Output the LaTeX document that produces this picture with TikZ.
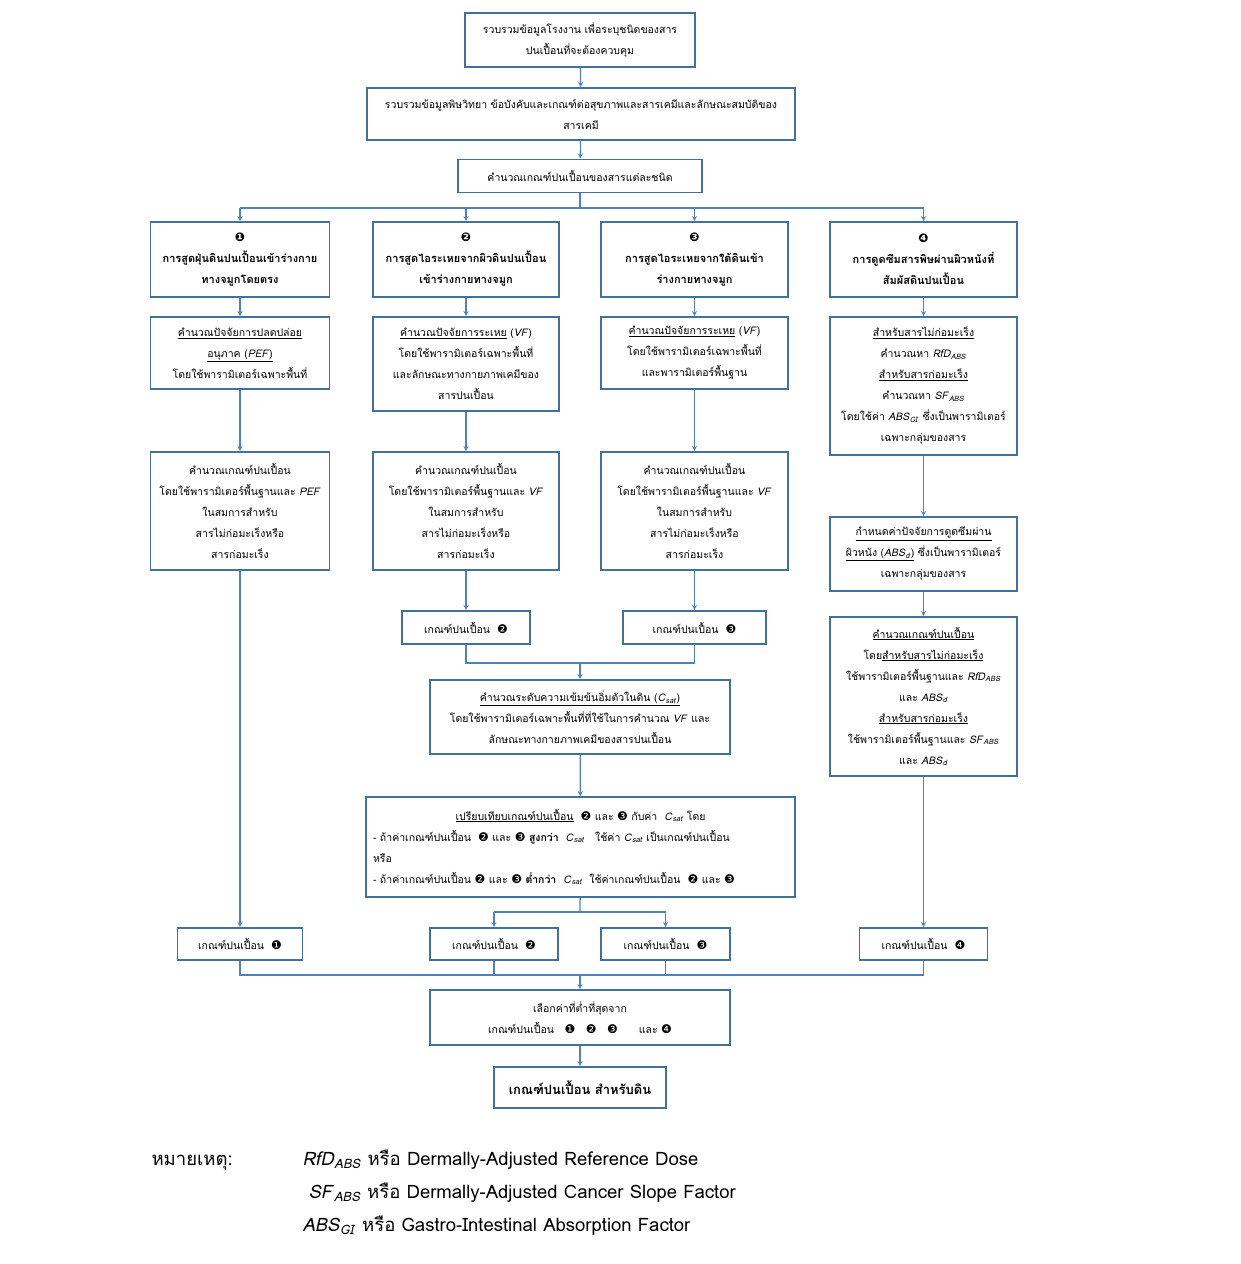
\documentclass[tikz,border=0pt]{standalone}
\usepackage{fontspec}
\setmainfont[Script=Thai]{Loma}
\newfontfamily\dingfont{DejaVu Sans}
\usepackage{xcolor}
\usepackage{tikz}
\usetikzlibrary{shapes,arrows,positioning,calc}

\definecolor{boxblue}{RGB}{65,113,156}
\definecolor{lineblue}{RGB}{79,129,189}
\newcommand{\nb}[1]{{\dingfont\fontsize{12}{12}\selectfont #1}}
\newcommand{\withsub}[2]{\textit{#1}\textsubscript{\textit{#2}}}

\begin{document}
\begin{tikzpicture}[
    x=1pt, y=-1pt,
    box/.style={rectangle, draw=boxblue, line width=1.6pt, fill=white, align=center, inner sep=3pt,
                font=\fontsize{10.5}{21}\selectfont},
    head/.style={box, font=\fontsize{11}{21}\selectfont\bfseries},
    link/.style={->, >=stealth, draw=lineblue, line width=1.3pt},
    wire/.style={draw=lineblue, line width=1.3pt},
    note/.style={anchor=base west, font=\fontsize{18.5}{22}\selectfont}
]

\useasboundingbox (0,0) rectangle (1241,1264);

% Top boxes
\node[box, minimum width=230, minimum height=54] (collect) at (580,40) {รวบรวมข้อมูลโรงงาน เพื่อระบุชนิดของสาร\\ปนเปื้อนที่จะต้องควบคุม};
\node[box, minimum width=428, minimum height=52] (toxic) at (581,114) {รวบรวมข้อมูลพิษวิทยา ข้อบังคับและเกณฑ์ต่อสุขภาพและสารเคมีและลักษณะสมบัติของ\\สารเคมี};
\node[box, minimum width=244, minimum height=33] (calc) at (580,176) {คำนวณเกณฑ์ปนเปื้อนของสารแต่ละชนิด};

% Pathways
\node[head, minimum width=179, minimum height=75] (path1) at (240,259.5) {\nb{❶}\\การสูดฝุ่นดินปนเปื้อนเข้าร่างกาย\\ทางจมูกโดยตรง};
\node[head, minimum width=186, minimum height=75] (path2) at (466,259.5) {\nb{❷}\\การสูดไอระเหยจากผิวดินปนเปื้อน\\เข้าร่างกายทางจมูก};
\node[head, minimum width=187, minimum height=75] (path3) at (694.5,259.5) {\nb{❸}\\การสูดไอระเหยจากใต้ดินเข้า\\ร่างกายทางจมูก};
\node[head, minimum width=187, minimum height=75] (path4) at (923.5,259.5) {\nb{❹}\\การดูดซึมสารพิษผ่านผิวหนังที่\\สัมผัสดินปนเปื้อน};

% Factors
\node[box, minimum width=179, minimum height=72] (pef) at (240,353) {\underline{คำนวณปัจจัยการปลดปล่อย}\\\underline{อนุภาค (\textit{PEF})}\\โดยใช้พารามิเตอร์เฉพาะพื้นที่};
\node[box, minimum width=186, minimum height=94] (vfsurf) at (466,364) {\underline{คำนวณปัจจัยการระเหย} (\textit{VF})\\โดยใช้พารามิเตอร์เฉพาะพื้นที่\\และลักษณะทางกายภาพเคมีของ\\สารปนเปื้อน};
\node[box, minimum width=187, minimum height=72] (vfsub) at (694.5,353) {\underline{คำนวณปัจจัยการระเหย} (\textit{VF})\\โดยใช้พารามิเตอร์เฉพาะพื้นที่\\และพารามิเตอร์พื้นฐาน};
\node[box, minimum width=187, minimum height=138] (dermal) at (923.5,386) {\underline{สำหรับสารไม่ก่อมะเร็ง}\\คำนวณหา \withsub{RfD}{ABS}\\\underline{สำหรับสารก่อมะเร็ง}\\คำนวณหา \withsub{SF}{ABS}\\โดยใช้ค่า \withsub{ABS}{GI} ซึ่งเป็นพารามิเตอร์\\เฉพาะกลุ่มของสาร};

% Criteria calculation
\node[box, minimum width=179, minimum height=118] (crit1) at (240,511) {คำนวณเกณฑ์ปนเปื้อน\\โดยใช้พารามิเตอร์พื้นฐานและ \textit{PEF}\\ในสมการสำหรับ\\สารไม่ก่อมะเร็งหรือ\\สารก่อมะเร็ง};
\node[box, minimum width=186, minimum height=118] (crit2) at (466,511) {คำนวณเกณฑ์ปนเปื้อน\\โดยใช้พารามิเตอร์พื้นฐานและ \textit{VF}\\ในสมการสำหรับ\\สารไม่ก่อมะเร็งหรือ\\สารก่อมะเร็ง};
\node[box, minimum width=187, minimum height=118] (crit3) at (694.5,511) {คำนวณเกณฑ์ปนเปื้อน\\โดยใช้พารามิเตอร์พื้นฐานและ \textit{VF}\\ในสมการสำหรับ\\สารไม่ก่อมะเร็งหรือ\\สารก่อมะเร็ง};
\node[box, minimum width=187, minimum height=74] (absd) at (923.5,554) {\underline{กำหนดค่าปัจจัยการดูดซึมผ่าน}\\\underline{ผิวหนัง (\withsub{ABS}{d})} ซึ่งเป็นพารามิเตอร์\\เฉพาะกลุ่มของสาร};
\node[box, minimum width=187, minimum height=159] (crit4) at (923.5,696.5) {\underline{คำนวณเกณฑ์ปนเปื้อน}\\โดย\underline{สำหรับสารไม่ก่อมะเร็ง}\\ใช้พารามิเตอร์พื้นฐานและ \withsub{RfD}{ABS}\\และ \withsub{ABS}{d}\\\underline{สำหรับสารก่อมะเร็ง}\\ใช้พารามิเตอร์พื้นฐานและ \withsub{SF}{ABS}\\และ \withsub{ABS}{d}};

% Intermediate criteria 2 and 3
\node[box, minimum width=128, minimum height=33] (val2) at (466,627.5) {เกณฑ์ปนเปื้อน\ \ \nb{❷}};
\node[box, minimum width=143, minimum height=33] (val3) at (694.5,627.5) {เกณฑ์ปนเปื้อน\ \ \nb{❸}};

% Saturation
\node[box, minimum width=300, minimum height=74] (csat) at (580,717) {\underline{คำนวณระดับความเข้มข้นอิ่มตัวในดิน (\withsub{C}{sat})}\\โดยใช้พารามิเตอร์เฉพาะพื้นที่ที่ใช้ในการคำนวณ \textit{VF} และ\\ลักษณะทางกายภาพเคมีของสารปนเปื้อน};
\node[box, minimum width=429, minimum height=100, text width=415, align=left] (compare) at (580.5,847) {\makebox[\linewidth]{\underline{เปรียบเทียบเกณฑ์ปนเปื้อน}\ \ \nb{❷} และ \nb{❸} กับค่า\ \ \withsub{C}{sat} โดย}\\- ถ้าค่าเกณฑ์ปนเปื้อน\ \ \nb{❷} และ \nb{❸} \textbf{สูงกว่า}\ \ \withsub{C}{sat}\ \ \ ใช้ค่า \withsub{C}{sat} เป็นเกณฑ์ปนเปื้อน\\หรือ\\- ถ้าค่าเกณฑ์ปนเปื้อน \nb{❷} และ \nb{❸} \textbf{ต่ำกว่า}\ \ \withsub{C}{sat}\ \ ใช้ค่าเกณฑ์ปนเปื้อน\ \ \nb{❷} และ \nb{❸}};

% Final criteria
\node[box, minimum width=125, minimum height=32] (fin1) at (240,944) {เกณฑ์ปนเปื้อน\ \ \nb{❶}};
\node[box, minimum width=128, minimum height=32] (fin2) at (494,944) {เกณฑ์ปนเปื้อน\ \ \nb{❷}};
\node[box, minimum width=129, minimum height=32] (fin3) at (665.5,944) {เกณฑ์ปนเปื้อน\ \ \nb{❸}};
\node[box, minimum width=128, minimum height=32] (fin4) at (923.5,944) {เกณฑ์ปนเปื้อน\ \ \nb{❹}};
\node[box, minimum width=300, minimum height=55] (select) at (580,1017.5) {เลือกค่าที่ต่ำที่สุดจาก\\เกณฑ์ปนเปื้อน\quad\nb{❶}\quad\nb{❷}\quad\nb{❸}\qquad และ \nb{❹}};
\node[head, minimum width=172, minimum height=41, font=\fontsize{13}{21}\selectfont\bfseries] (soil) at (580,1087.5) {เกณฑ์ปนเปื้อน สำหรับดิน};

% Notes
\node[note] (notehead) at (148,1165) {หมายเหตุ:};
\node[note] (note1) at (299,1165) {\withsub{RfD}{ABS} หรือ Dermally-Adjusted Reference Dose};
\node[note] (note2) at (305,1198) {\withsub{SF}{ABS} หรือ Dermally-Adjusted Cancer Slope Factor};
\node[note] (note3) at (299,1231) {\withsub{ABS}{GI} หรือ Gastro-Intestinal Absorption Factor};

% Junctions
\coordinate (bus1) at (580,208);
\coordinate (bus2) at (580,663);
\coordinate (bus3) at (580,912);
\coordinate (bus4) at (580,975);

% Connectors
\draw[link] (collect) -- (toxic);
\draw[link] (toxic) -- (calc);
\draw[wire] (calc) -- (bus1);
\draw[wire] (path1 |- bus1) -- (path4 |- bus1);
\draw[link] (path1 |- bus1) -- (path1);
\draw[link] (path2 |- bus1) -- (path2);
\draw[link] (path3 |- bus1) -- (path3);
\draw[link] (path4 |- bus1) -- (path4);

\draw[link] (path1) -- (pef);
\draw[link] (pef) -- (crit1);
\draw[link] (path2) -- (vfsurf);
\draw[link] (vfsurf) -- (crit2);
\draw[link] (crit2) -- (val2);
\draw[link] (path3) -- (vfsub);
\draw[link] (vfsub) -- (crit3);
\draw[link] (crit3) -- (val3);
\draw[link] (path4) -- (dermal);
\draw[link] (dermal) -- (absd);
\draw[link] (absd) -- (crit4);

\draw[wire] (val2) -- (val2 |- bus2) -- (val3 |- bus2) -- (val3);
\draw[link] (bus2) -- (csat);
\draw[link] (csat) -- (compare);
\draw[wire] (compare) -- (bus3);
\draw[wire] (fin2 |- bus3) -- (fin3 |- bus3);
\draw[link] (fin2 |- bus3) -- (fin2);
\draw[link] (fin3 |- bus3) -- (fin3);

\draw[link] (crit1) -- (fin1);
\draw[link] (crit4) -- (fin4);

\draw[wire] (fin1) -- (fin1 |- bus4) -- (fin4 |- bus4) -- (fin4);
\draw[wire] (fin2) -- (fin2 |- bus4);
\draw[wire] (fin3) -- (fin3 |- bus4);
\draw[link] (bus4) -- (select);
\draw[link] (select) -- (soil);

\end{tikzpicture}
\end{document}
